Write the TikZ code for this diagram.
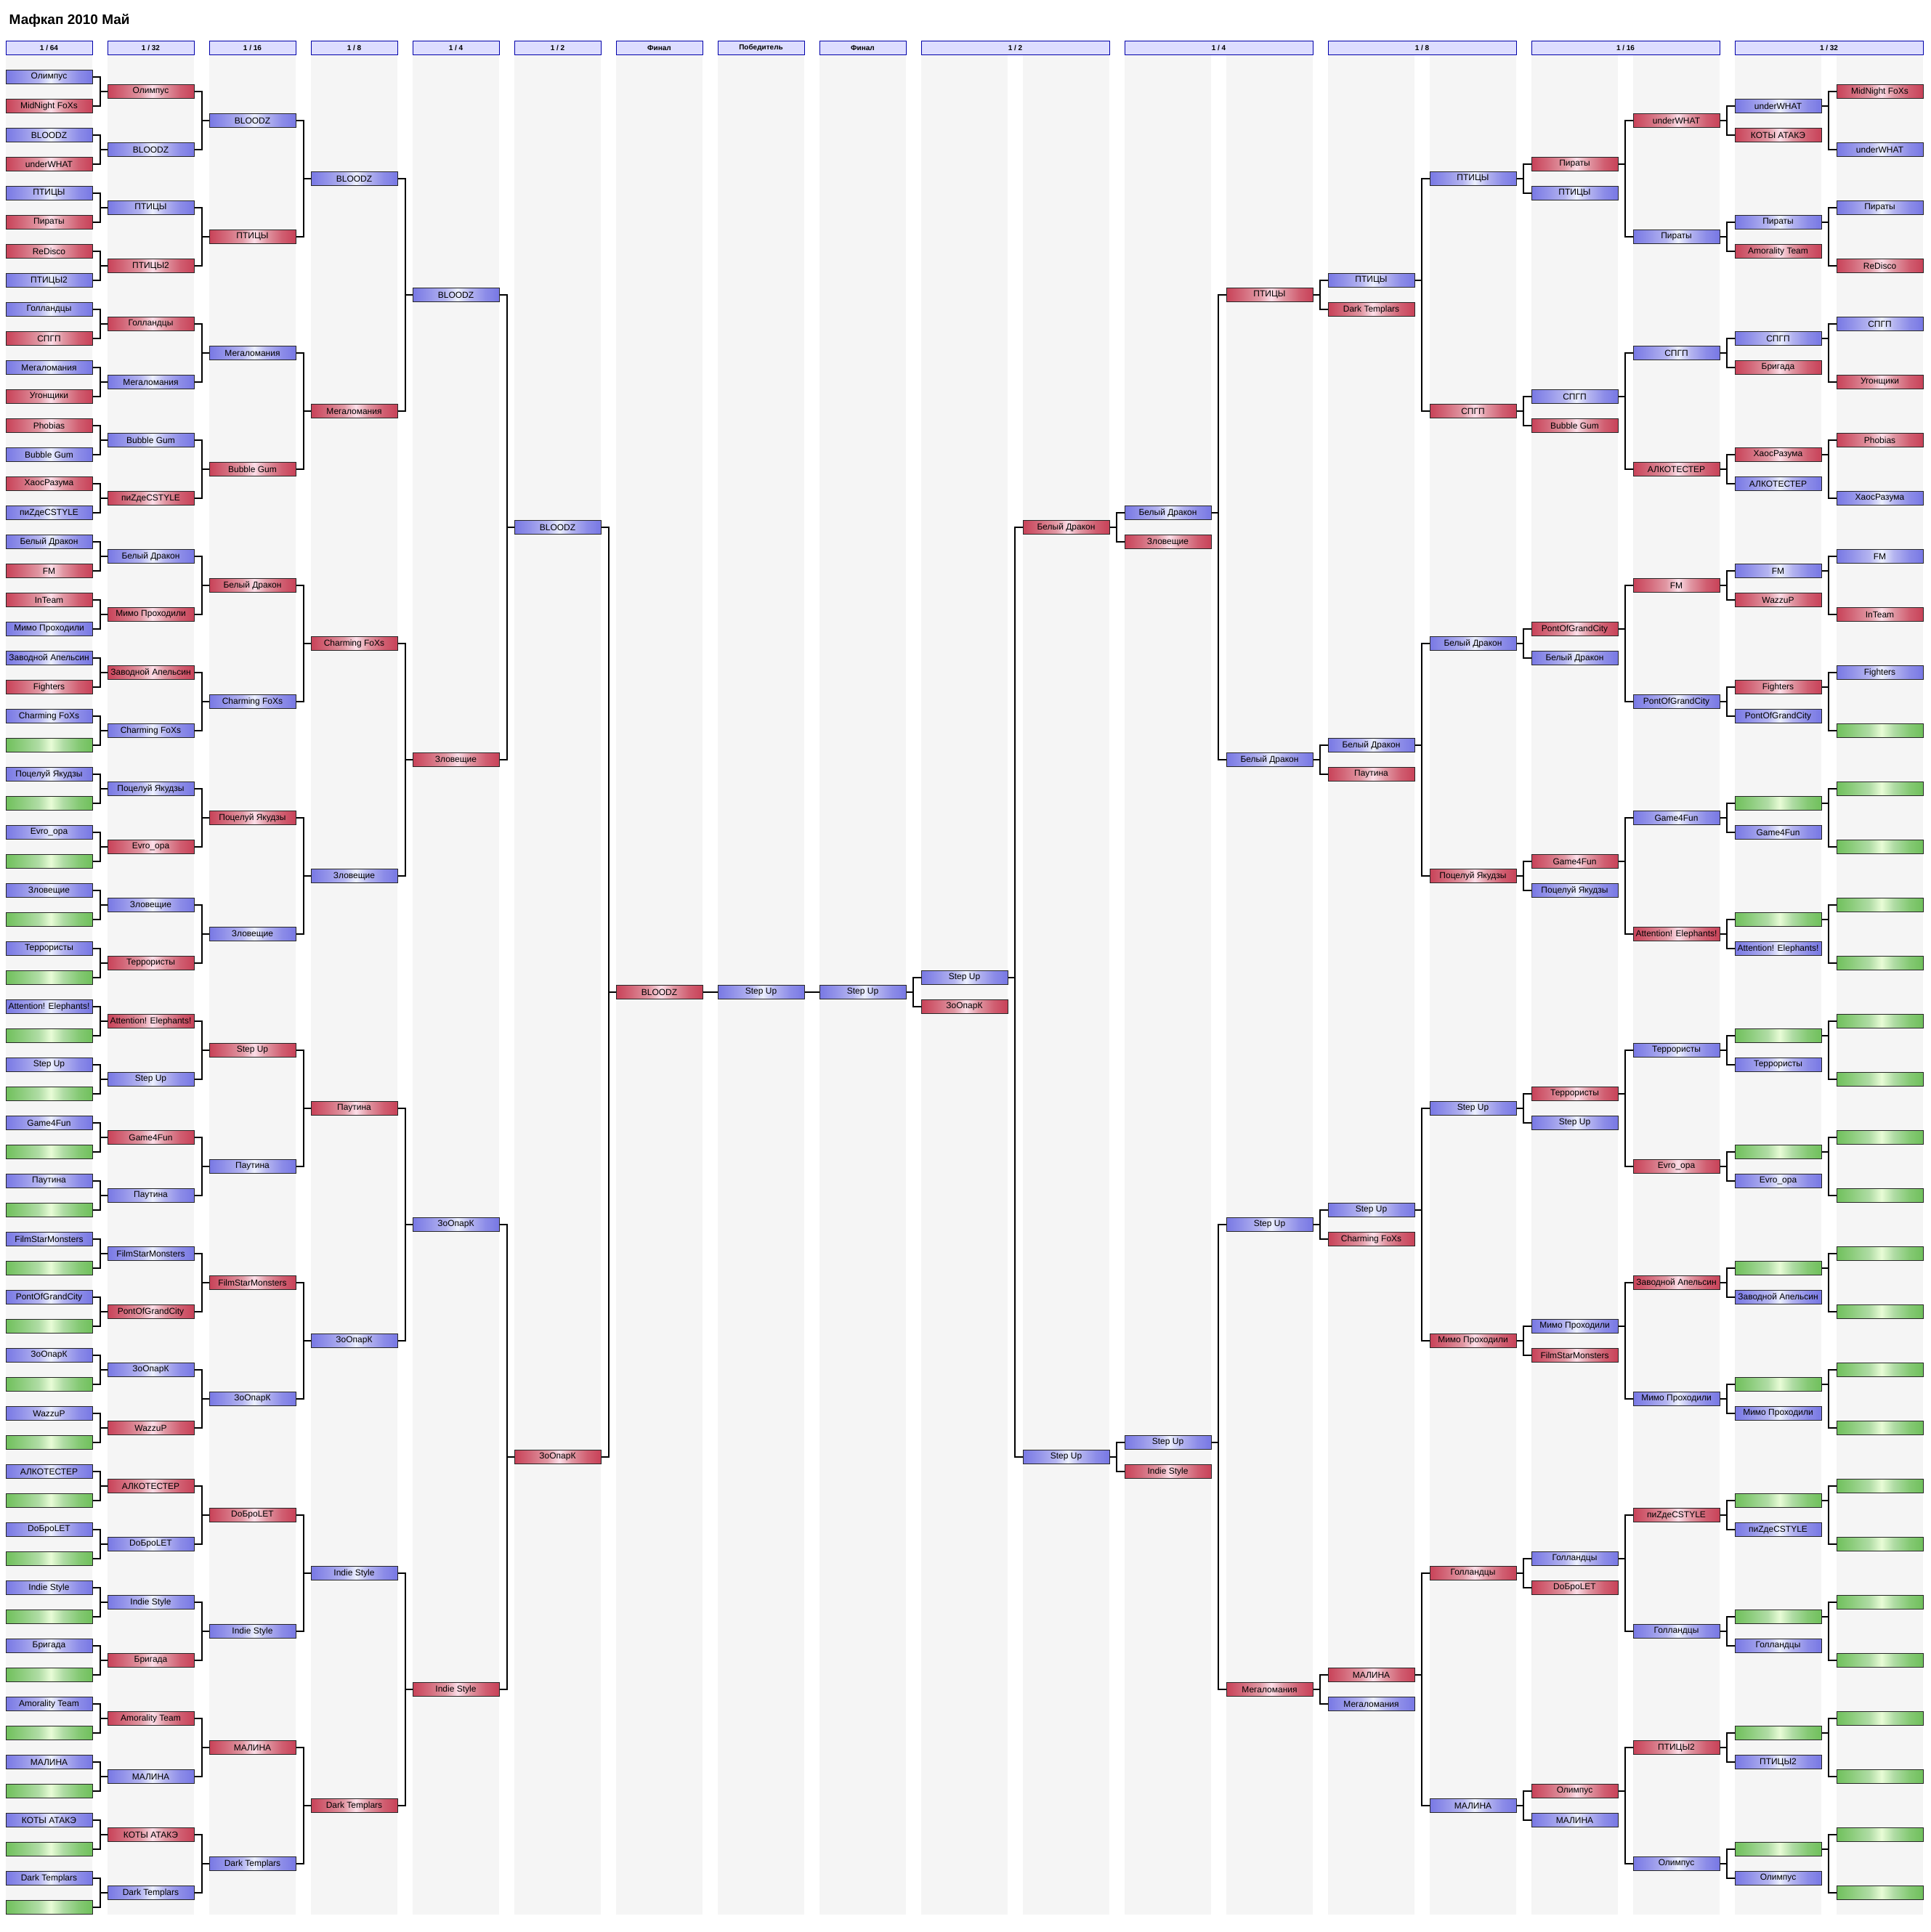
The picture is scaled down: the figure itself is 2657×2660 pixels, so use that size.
\documentclass[tikz,border=0pt]{standalone}
\usepackage{fontspec}
\setmainfont{Liberation Sans}
\definecolor{tmblue}{RGB}{120,120,228}
\definecolor{tmbluelt}{RGB}{236,240,255}
\definecolor{tmred}{RGB}{200,66,88}
\definecolor{tmredlt}{RGB}{252,222,232}
\definecolor{tmgreen}{RGB}{112,192,92}
\definecolor{tmgreenlt}{RGB}{232,252,214}
\definecolor{headfill}{RGB}{221,221,255}
\definecolor{headline}{RGB}{0,0,170}
\definecolor{lanegray}{RGB}{245,245,245}
\pgfdeclarehorizontalshading{shadeb}{100bp}{color(0bp)=(tmblue); color(25bp)=(tmblue); color(34bp)=(tmblue!80!white);
  color(44bp)=(tmblue!55!white); color(51bp)=(tmbluelt); color(58bp)=(tmblue!55!white); color(67bp)=(tmblue!85!white);
  color(75bp)=(tmblue); color(100bp)=(tmblue)}
\pgfdeclarehorizontalshading{shader}{100bp}{color(0bp)=(tmred); color(25bp)=(tmred); color(34bp)=(tmred!80!white);
  color(44bp)=(tmred!55!white); color(51bp)=(tmredlt); color(58bp)=(tmred!55!white); color(67bp)=(tmred!85!white);
  color(75bp)=(tmred); color(100bp)=(tmred)}
\pgfdeclarehorizontalshading{shadeg}{100bp}{color(0bp)=(tmgreen); color(25bp)=(tmgreen); color(34bp)=(tmgreen!80!white);
  color(44bp)=(tmgreen!55!white); color(51bp)=(tmgreenlt); color(58bp)=(tmgreen!55!white); color(67bp)=(tmgreen!85!white);
  color(75bp)=(tmgreen); color(100bp)=(tmgreen)}
\tikzset{
  team/.style={draw=black!85, line width=0.75pt, minimum width=89.25pt, minimum height=14pt,
    inner sep=0pt, text=black, font=\fontsize{9}{10}\selectfont},
  team b/.style={team, shading=shadeb, shading angle=0},
  team r/.style={team, shading=shader, shading angle=0},
  team g/.style={team, shading=shadeg, shading angle=0},
  head/.style={draw=headline, fill=headfill, line width=0.75pt, minimum height=14.5pt, inner sep=0pt,
    font=\bfseries\fontsize{7.5}{9}\selectfont},
  lane/.style={fill=lanegray},
  link/.style={line width=1.1pt}
}
\begin{document}
\begin{tikzpicture}[x=0.75pt, y=-0.75pt]
  \useasboundingbox (0,0) rectangle (2657,2660);

  % title and lanes
  \node[anchor=base west, font=\bfseries\fontsize{14.25}{17}\selectfont] (title) at (8,33) {Мафкап 2010 Май};
  \foreach \c in {0,...,18}
    \fill[lane] (8+140*\c, 76) rectangle (127+140*\c, 2636);

  % headers
  \foreach \c/\lab in {0/64, 1/32, 2/16, 3/8, 4/4, 5/2}
    \node[head, minimum width=89.25pt] (h-\c) at (67.5+140*\c, 66) {1 / \lab};
  \node[head, minimum width=89.25pt] (h-6) at (907.5, 66) {Финал};
  \node[head, minimum width=89.25pt] (h-7) at (1047.5, 66) {Победитель};
  \node[head, minimum width=89.25pt] (h-8) at (1187.5, 66) {Финал};
  \foreach \c/\lab in {9/2, 11/4, 13/8, 15/16, 17/32}
    \node[head, minimum width=194.25pt] (h-\c) at (137.5+140*\c, 66) {1 / \lab};

  % winners bracket
  \foreach \t/\s [count=\k from 0] in {Олимпус/b, MidNight FoXs/r, BLOODZ/b, underWHAT/r, ПТИЦЫ/b, Пираты/r, ReDisco/r, ПТИЦЫ2/b,
      Голландцы/b, СПГП/r, Мегаломания/b, Угонщики/r, Phobias/r, Bubble Gum/b, ХаосРазума/r, пиZдеCSTYLE/b,
      Белый Дракон/b, FM/r, InTeam/r, Мимо Проходили/b, Заводной Апельсин/b, Fighters/r, Charming FoXs/b, /g,
      Поцелуй Якудзы/b, /g, Evro\_opa/b, /g, Зловещие/b, /g, Террористы/b, /g,
      Attention! Elephants!/b, /g, Step Up/b, /g, Game4Fun/b, /g, Паутина/b, /g,
      FilmStarMonsters/b, /g, PontOfGrandCity/b, /g, ЗоОпарК/b, /g, WazzuP/b, /g,
      АЛКОТЕСТЕР/b, /g, DoБроLET/b, /g, Indie Style/b, /g, Бригада/b, /g,
      Amorality Team/b, /g, МАЛИНА/b, /g, КОТЫ АТАКЭ/b, /g, Dark Templars/b, /g}
    \node[team \s] (n-0-\k) at (67.5, 106+40*\k) {\t};
  \foreach \t/\s [count=\k from 0] in {Олимпус/r, BLOODZ/b, ПТИЦЫ/b, ПТИЦЫ2/r, Голландцы/r, Мегаломания/b, Bubble Gum/b, пиZдеCSTYLE/r,
      Белый Дракон/b, Мимо Проходили/r, Заводной Апельсин/r, Charming FoXs/b, Поцелуй Якудзы/b, Evro\_opa/r, Зловещие/b, Террористы/r,
      Attention! Elephants!/r, Step Up/b, Game4Fun/r, Паутина/b, FilmStarMonsters/b, PontOfGrandCity/r, ЗоОпарК/b, WazzuP/r,
      АЛКОТЕСТЕР/r, DoБроLET/b, Indie Style/b, Бригада/r, Amorality Team/r, МАЛИНА/b, КОТЫ АТАКЭ/r, Dark Templars/b}
    \node[team \s] (n-1-\k) at (207.5, 126+80*\k) {\t};
  \foreach \t/\s [count=\k from 0] in {BLOODZ/b, ПТИЦЫ/r, Мегаломания/b, Bubble Gum/r, Белый Дракон/r, Charming FoXs/b, Поцелуй Якудзы/r, Зловещие/b,
      Step Up/r, Паутина/b, FilmStarMonsters/r, ЗоОпарК/b, DoБроLET/r, Indie Style/b, МАЛИНА/r, Dark Templars/b}
    \node[team \s] (n-2-\k) at (347.5, 166+160*\k) {\t};
  \foreach \t/\s [count=\k from 0] in {BLOODZ/b, Мегаломания/r, Charming FoXs/r, Зловещие/b, Паутина/r, ЗоОпарК/b, Indie Style/b, Dark Templars/r}
    \node[team \s] (n-3-\k) at (487.5, 246+320*\k) {\t};
  \foreach \t/\s [count=\k from 0] in {BLOODZ/b, Зловещие/r, ЗоОпарК/b, Indie Style/r}
    \node[team \s] (n-4-\k) at (627.5, 406+640*\k) {\t};
  \foreach \t/\s [count=\k from 0] in {BLOODZ/b, ЗоОпарК/r}
    \node[team \s] (n-5-\k) at (767.5, 726+1280*\k) {\t};
  \node[team r] (n-6-0) at (907.5, 1366) {BLOODZ};
  \node[team b] (n-7-0) at (1047.5, 1366) {Step Up};
  \node[team b] (n-8-0) at (1187.5, 1366) {Step Up};

  % losers bracket
  \foreach \t/\s [count=\k from 0] in {Step Up/b, ЗоОпарК/r}
    \node[team \s] (n-9-\k) at (1327.5, 1346+40*\k) {\t};
  \foreach \t/\s [count=\k from 0] in {Белый Дракон/r, Step Up/b}
    \node[team \s] (n-10-\k) at (1467.5, 726+1280*\k) {\t};
  \foreach \t/\s [count=\k from 0] in {Белый Дракон/b, Зловещие/r, Step Up/b, Indie Style/r}
    \node[team \s] (n-11-\k) at (1607.5, {706+1280*int(\k/2)+40*mod(\k,2)}) {\t};
  \foreach \t/\s [count=\k from 0] in {ПТИЦЫ/r, Белый Дракон/b, Step Up/b, Мегаломания/r}
    \node[team \s] (n-12-\k) at (1747.5, 406+640*\k) {\t};
  \foreach \t/\s [count=\k from 0] in {ПТИЦЫ/b, Dark Templars/r, Белый Дракон/b, Паутина/r, Step Up/b, Charming FoXs/r, МАЛИНА/r, Мегаломания/b}
    \node[team \s] (n-13-\k) at (1887.5, {386+640*int(\k/2)+40*mod(\k,2)}) {\t};
  \foreach \t/\s [count=\k from 0] in {ПТИЦЫ/b, СПГП/r, Белый Дракон/b, Поцелуй Якудзы/r, Step Up/b, Мимо Проходили/r, Голландцы/r, МАЛИНА/b}
    \node[team \s] (n-14-\k) at (2027.5, 246+320*\k) {\t};
  \foreach \t/\s [count=\k from 0] in {Пираты/r, ПТИЦЫ/b, СПГП/b, Bubble Gum/r, PontOfGrandCity/r, Белый Дракон/b, Game4Fun/r, Поцелуй Якудзы/b,
      Террористы/r, Step Up/b, Мимо Проходили/b, FilmStarMonsters/r, Голландцы/b, DoБроLET/r, Олимпус/r, МАЛИНА/b}
    \node[team \s] (n-15-\k) at (2167.5, {226+320*int(\k/2)+40*mod(\k,2)}) {\t};
  \foreach \t/\s [count=\k from 0] in {underWHAT/r, Пираты/b, СПГП/b, АЛКОТЕСТЕР/r, FM/r, PontOfGrandCity/b, Game4Fun/b, Attention! Elephants!/r,
      Террористы/b, Evro\_opa/r, Заводной Апельсин/r, Мимо Проходили/b, пиZдеCSTYLE/r, Голландцы/b, ПТИЦЫ2/r, Олимпус/b}
    \node[team \s] (n-16-\k) at (2307.5, 166+160*\k) {\t};
  \foreach \t/\s [count=\k from 0] in {underWHAT/b, КОТЫ АТАКЭ/r, Пираты/b, Amorality Team/r, СПГП/b, Бригада/r, ХаосРазума/r, АЛКОТЕСТЕР/b,
      FM/b, WazzuP/r, Fighters/r, PontOfGrandCity/b, /g, Game4Fun/b, /g, Attention! Elephants!/b,
      /g, Террористы/b, /g, Evro\_opa/b, /g, Заводной Апельсин/b, /g, Мимо Проходили/b,
      /g, пиZдеCSTYLE/b, /g, Голландцы/b, /g, ПТИЦЫ2/b, /g, Олимпус/b}
    \node[team \s] (n-17-\k) at (2447.5, {146+160*int(\k/2)+40*mod(\k,2)}) {\t};
  \foreach \t/\s [count=\k from 0] in {MidNight FoXs/r, underWHAT/b, Пираты/b, ReDisco/r, СПГП/b, Угонщики/r, Phobias/r, ХаосРазума/b,
      FM/b, InTeam/r, Fighters/b, /g, /g, /g, /g, /g, /g, /g, /g, /g, /g, /g, /g, /g, /g, /g, /g, /g, /g, /g, /g, /g}
    \node[team \s] (n-18-\k) at (2587.5, 126+80*\k) {\t};

  % connectors, winners side
  \foreach \c/\n in {0/31, 1/15, 2/7, 3/3, 4/1, 5/0}
    \foreach \j in {0,...,\n} {
      \pgfmathtruncatemacro\ja{2*\j}
      \pgfmathtruncatemacro\jb{2*\j+1}
      \pgfmathtruncatemacro\cn{\c+1}
      \draw[link] (n-\c-\ja.east) -- ++(10.5,0) |- (n-\c-\jb.east);
      \draw[link] (n-\cn-\j.west) -- ++(-10.5,0);
    }
  \draw[link] (n-6-0) -- (n-7-0);
  \draw[link] (n-7-0) -- (n-8-0);

  % connectors, losers side
  \foreach \c/\n in {18/15, 16/7, 14/3, 12/1, 10/0, 17/15, 15/7, 13/3, 11/1, 9/0}
    \foreach \j in {0,...,\n} {
      \pgfmathtruncatemacro\ja{2*\j}
      \pgfmathtruncatemacro\jb{2*\j+1}
      \pgfmathtruncatemacro\cn{\c-1}
      \pgfmathtruncatemacro\jt{mod(\c,2)==0 ? 2*\j : \j}
      \draw[link] (n-\c-\ja.west) -- ++(-10.5,0) |- (n-\c-\jb.west);
      \draw[link] (n-\cn-\jt.east) -- ++(10.5,0);
    }
\end{tikzpicture}
\end{document}
